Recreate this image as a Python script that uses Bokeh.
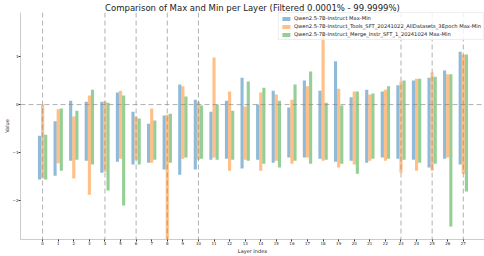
from bokeh.plotting import figure
from bokeh.models import Span, FixedTicker, Range1d
from bokeh.embed import file_html
from bokeh.resources import INLINE

layers = list(range(28))

series_names = [
    "Qwen2.5-7B-Instruct Max-Min",
    "Qwen2.5-7B-Instruct_Tools_SFT_20241022_AllDatasets_3Epoch Max-Min",
    "Qwen2.5-7B-Instruct_Merge_Instr_SFT_1_20241024 Max-Min",
]

blue_max = [-0.65, -0.35, 0.08, 0.06, 0.06, 0.25, -0.15, -0.40, -0.23, 0.42,
            0.10, -0.15, 0.08, 0.56, 0.00, 0.29, -0.06, 0.50, 0.29, 0.90,
            0.15, 0.31, 0.27, 0.40, 0.50, 0.56, 0.71, 1.10]
blue_min = [-1.56, -1.48, -1.17, -1.17, -1.42, -1.19, -1.25, -1.21, -1.35, -1.46,
            -1.35, -1.15, -1.13, -1.33, -1.15, -1.21, -1.10, -1.10, -1.13, -1.19,
            -1.17, -1.21, -1.10, -1.13, -1.15, -1.31, -1.13, -1.25]

orange_max = [0.00, -0.10, -0.25, 0.19, 0.07, 0.29, -0.25, -0.08, -0.21, 0.38,
              0.06, 0.98, 0.27, -0.04, 0.25, 0.21, 0.10, 0.38, 1.48, 0.33,
              0.27, 0.21, 0.31, 0.48, 0.54, 0.67, 0.63, 1.04]
orange_min = [-1.54, -1.22, -1.54, -1.88, -1.40, -1.13, -1.15, -1.21, -3.20, -1.13,
              -1.15, -1.10, -1.38, -1.15, -1.38, -1.17, -1.23, -1.10, -1.17, -1.31,
              -1.25, -1.17, -1.17, -1.42, -1.38, -1.38, -1.10, -1.44]

green_max = [-0.63, -0.08, -0.13, 0.31, 0.04, 0.19, -0.29, -0.33, -0.19, 0.17,
             -0.02, 0.00, -0.13, 0.48, 0.35, 0.08, 0.42, 0.69, 0.04, -0.02,
             0.27, 0.23, 0.38, 0.50, 0.54, 0.58, 0.63, 1.04]
green_min = [-1.56, -1.38, -1.15, -1.25, -1.79, -2.10, -1.25, -1.15, -1.21, -1.10,
             -1.13, -1.15, -1.15, -1.17, -1.23, -1.31, -1.17, -1.23, -1.15, -1.23,
             -1.44, -1.13, -1.13, -1.15, -1.21, -1.23, -2.54, -1.81]

highlight_layers = [0, 4, 6, 8, 10, 23, 25, 27]
zero_line = 0
y_ticks = [-2, -1, 0, 1]

colors = ["#1f77b4", "#ff7f0e", "#2ca02c"]
offsets = [-0.2, 0.0, 0.2]
bar_width = 0.2

p = figure(width=484, height=256, output_backend="svg", toolbar_location=None,
           x_range=Range1d(-1.42, 28.36), y_range=Range1d(-2.81, 1.917),
           title="Comparison of Max and Min per Layer (Filtered 0.0001% - 99.9999%)",
           min_border_left=0, min_border_right=0, min_border_top=0, min_border_bottom=0)

p.title.align = "center"
p.title.text_font = "DejaVu Sans"
p.title.text_font_size = "8.5px"
p.title.text_font_style = "normal"
p.title.text_color = "#222222"
p.title.offset = 0
p.title.standoff = 0

series = [(blue_max, blue_min), (orange_max, orange_min), (green_max, green_min)]
for (mx, mn), c, off, name in zip(series, colors, offsets, series_names):
    xs = [l + off for l in layers]
    p.vbar(x=xs, top=mx, bottom=mn, width=bar_width, fill_color=c, fill_alpha=0.5,
           line_color=None, legend_label=name)

for l in highlight_layers:
    p.add_layout(Span(location=l, dimension="height", line_color="#888888",
                      line_alpha=0.65, line_dash="5 3", line_width=1))
p.add_layout(Span(location=zero_line, dimension="width", line_color="#888888",
                  line_alpha=0.65, line_dash="5 3", line_width=1))

p.grid.visible = False
p.outline_line_color = None
p.background_fill_color = "white"

p.xaxis.ticker = FixedTicker(ticks=layers)
p.yaxis.ticker = FixedTicker(ticks=y_ticks)
for ax in (p.xaxis, p.yaxis):
    ax.axis_line_color = "#cccccc"
    ax.major_tick_line_color = "#333333"
    ax.major_tick_out = 2
    ax.major_tick_in = 0
    ax.minor_tick_line_color = None
    ax.major_label_text_font = "DejaVu Sans"
    ax.major_label_text_font_size = "4px"
    ax.major_label_text_color = "#222222"
    ax.major_label_standoff = 0
    ax.axis_label_text_font = "DejaVu Sans"
    ax.axis_label_text_font_size = "5px"
    ax.axis_label_text_font_style = "normal"
    ax.axis_label_text_color = "#222222"
    ax.axis_label_standoff = 0
p.xaxis.axis_label = "Layer Index"
p.yaxis.axis_label = "Value"

p.legend.location = "top_right"
p.legend.label_text_font = "DejaVu Sans"
p.legend.label_text_font_size = "5.2px"
p.legend.label_text_color = "#222222"
p.legend.glyph_width = 10
p.legend.glyph_height = 5
p.legend.label_height = 6
p.legend.label_standoff = 3
p.legend.spacing = 2
p.legend.padding = 2
p.legend.margin = 0
p.legend.border_line_color = "#dddddd"
p.legend.background_fill_alpha = 0.8

open("out.html", "w").write(file_html(p, INLINE))
